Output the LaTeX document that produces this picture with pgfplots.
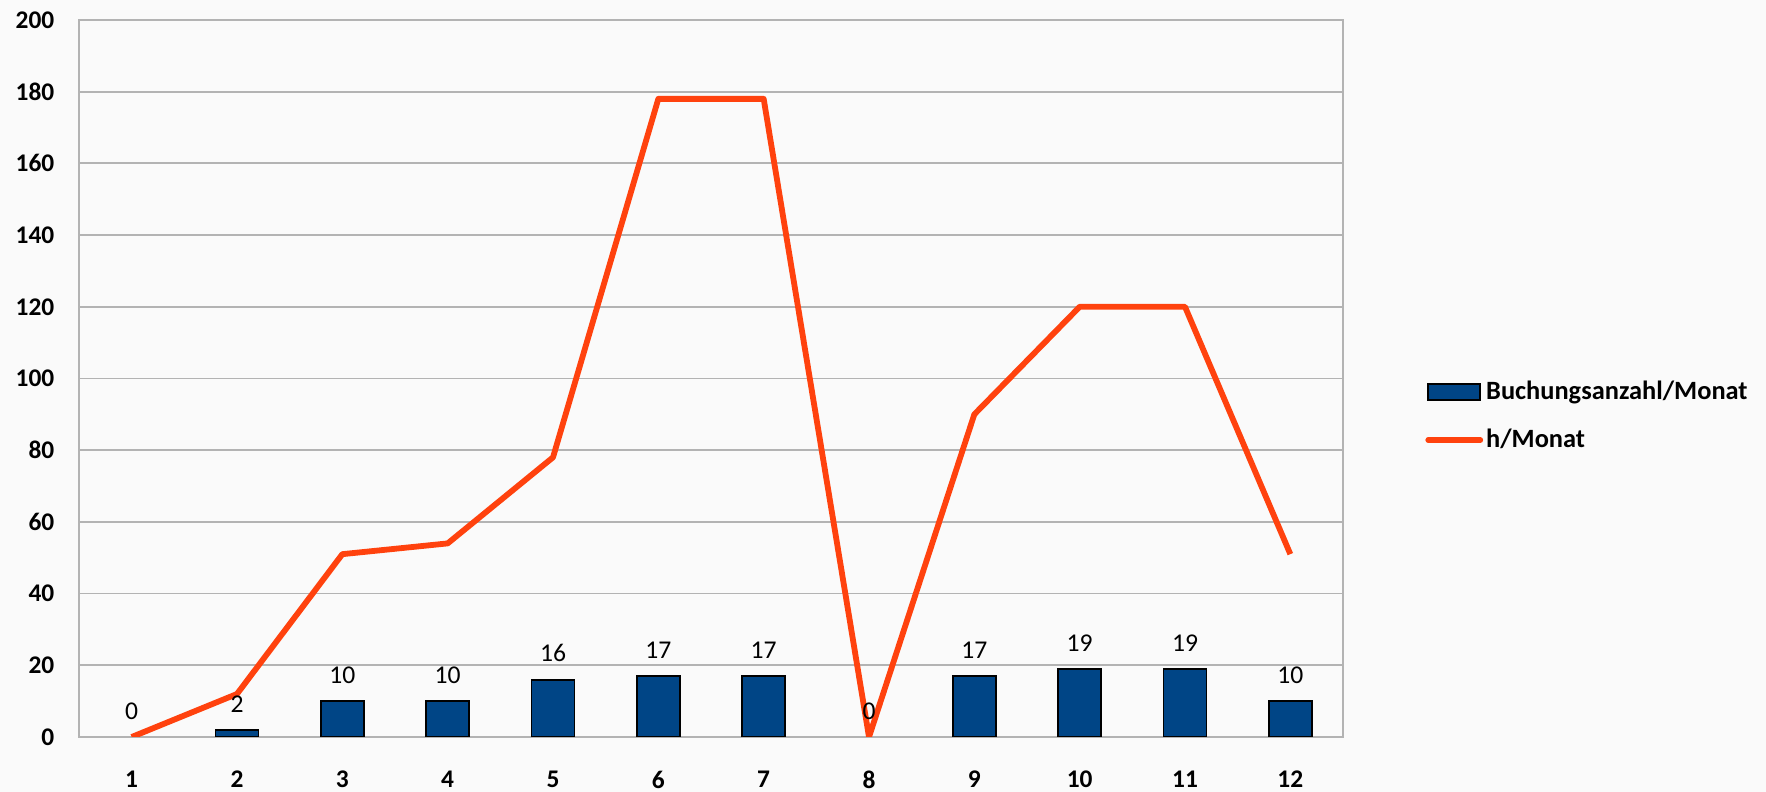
\documentclass[border=0pt]{standalone}
\usepackage{pgfplots}
\pgfplotsset{compat=1.18}
\usepackage{pgfplotstable}
\usepackage{fontspec}
\setmainfont{Carlito}
\definecolor{barblue}{HTML}{004586}
\definecolor{lineorange}{HTML}{FF420E}
\definecolor{gridgray}{HTML}{B3B3B3}
\definecolor{bg}{HTML}{FAFAFA}

\pgfplotstableread{
month bookings hours
1 0 0
2 2 12
3 10 51
4 10 54
5 16 78
6 17 178
7 17 178
8 0 0
9 17 90
10 19 120
11 19 120
12 10 51
}\datatable

\begin{document}
\begin{tikzpicture}
\fill[bg] (-39.5pt,-27.5pt) rectangle ++(883pt,396pt);
\begin{axis}[
  at={(0,0)}, anchor=south west,
  scale only axis,
  width=632pt, height=358.5pt,
  xmin=0.5, xmax=12.5,
  ymin=0, ymax=200,
  xtick={1,2,3,4,5,6,7,8,9,10,11,12},
  ytick={0,20,40,60,80,100,120,140,160,180,200},
  major tick length=0pt,
  tick style={draw=none},
  ymajorgrids,
  grid style={gridgray, line width=0.9pt},
  axis line style={gridgray, line width=0.9pt},
  tick label style={font=\fontsize{12.7}{15}\selectfont\bfseries},
  yticklabel style={xshift=-8.8pt},
  xticklabel style={yshift=-13.3pt},
  /pgf/number format/assume math mode=true,
  legend style={at={(1.0601,0.4477)}, anchor=west, draw=none, fill=none,
    font=\fontsize{13.2}{15}\selectfont\bfseries, row sep=10.3pt,
    nodes={inner sep=1.5pt}},
  legend cell align=left,
]
\addplot[ybar, bar width=21.5pt, fill=barblue, draw=black, line width=0.9pt,
  restrict y to domain=0.5:1000,
  legend image code/.code={\draw[fill=barblue, draw=black, line width=0.9pt] (0pt,-4pt) rectangle (26pt,4pt);}]
  table[x=month, y=bookings] {\datatable};
\addlegendentry{Buchungsanzahl/Monat}
\addplot[lineorange, line width=2.9pt, line join=round, mark=none,
  legend image code/.code={\draw[lineorange, line width=2.9pt, line cap=round] (0pt,0pt) -- (26pt,0pt);}]
  table[x=month, y=hours] {\datatable};
\addlegendentry{h/Monat}
\addplot[draw=none, mark=none, forget plot,
  nodes near coords,
  nodes near coords style={font=\fontsize{12.8}{15}\selectfont, text=black, anchor=south, yshift=5.3pt},
  point meta=explicit]
  table[x=month, y=bookings, meta=bookings] {\datatable};
\end{axis}
\pgfresetboundingbox
\path[use as bounding box] (-39.5pt,-27.5pt) rectangle ++(883pt,396pt);
\end{tikzpicture}
\end{document}
